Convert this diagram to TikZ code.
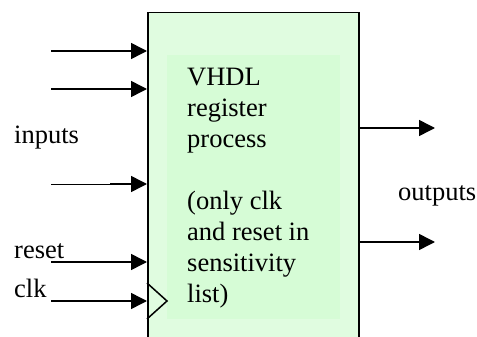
\documentclass[tikz,border=0pt]{standalone}
\usepackage{fontspec}
\setmainfont{Liberation Serif}
\usetikzlibrary{arrows.meta}
\definecolor{boxfill}{RGB}{224,252,224}
\definecolor{innerfill}{RGB}{214,252,214}
\tikzset{
  sig/.style={line width=1.5pt, -{Triangle[length=16pt,width=16pt]}},
  lbl/.style={anchor=base west, inner sep=0pt, font=\fontsize{26.5}{31}\selectfont},
}
\begin{document}
\begin{tikzpicture}[x=1pt,y=-1pt]
  \useasboundingbox (0,0) rectangle (477,337);
  \clip (0,0) rectangle (477,337);
  % register block, running off the lower edge
  \node[draw, line width=1.5pt, fill=boxfill, minimum width=211pt, minimum height=345pt,
        anchor=north west, inner sep=0pt] (box) at (147,12) {};
  \node[fill=innerfill, minimum width=173pt, minimum height=264pt,
        anchor=north west, inner sep=0pt] (inner) at (167,55) {};
  \node[lbl, align=left, anchor=north west] (txt) at (187,68)
    {VHDL\\register\\process\\[31pt](only clk\\and reset in\\sensitivity\\list)};
  % clock triangle
  \draw[line width=1.5pt] (147,283) -- (167,301) -- (147,319);
  % input signals
  \coordinate (i1) at (51,51);
  \coordinate (i2) at (51,89);
  \coordinate (i3) at (51,184);
  \coordinate (i3b) at (110,184);
  \coordinate (rs) at (51,262);
  \coordinate (ck) at (51,301);
  \draw[sig] (i1) -- (i1 -| box.west);
  \draw[sig] (i2) -- (i2 -| box.west);
  \draw[line width=0.6pt] (i3) -- (i3b);
  \draw[sig] (i3b) -- (i3b -| box.west);
  \draw[sig] (rs) -- (rs -| box.west);
  \draw[sig] (ck) -- (ck -| box.west);
  % output signals
  \coordinate (o1) at (435,128);
  \coordinate (o2) at (435,242);
  \draw[sig] (o1 -| box.east) -- (o1);
  \draw[sig] (o2 -| box.east) -- (o2);
  % labels
  \node[lbl] (linputs) at (14,143) {inputs};
  \node[lbl] (lreset) at (14,258) {reset};
  \node[lbl] (lclk) at (14,297) {clk};
  \node[lbl] (loutputs) at (398,200) {outputs};
\end{tikzpicture}
\end{document}
